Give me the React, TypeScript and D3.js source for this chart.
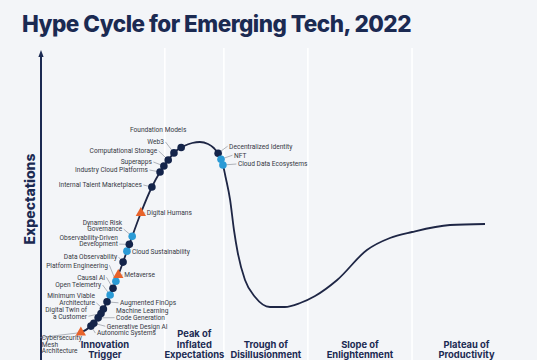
import * as d3 from "d3";
import { useEffect, useRef } from "react";

const width = 537;
const height = 360;

const navy = "#1b2a52";
const colors: Record<string, string> = {
  "2-5": "#2b9bd6",
  "5-10": "#14244a",
  ">10": "#e8632b",
};

const title = "Hype Cycle for Emerging Tech, 2022";
const yAxisLabel = "Expectations";

// phases along the time axis (0..100)
const phaseNames = [
  "Innovation\nTrigger",
  "Peak of\nInflated\nExpectations",
  "Trough of\nDisillusionment",
  "Slope of\nEnlightenment",
  "Plateau of\nProductivity",
];
const phaseBreaks = [0, 25.8, 38.1, 55.6, 77.3, 100];

// the hype curve
const curveTime = [
  8.1, 10.2, 12.3, 14.4, 16.5, 18.5, 20.8, 23.1, 24.8, 26.5, 28.1, 29.8, 31.5,
  33.1, 34.8, 36.0, 37.1, 37.9, 38.5, 39.4, 40.2, 41.0, 42.5, 44.6, 47.7, 50.8,
  54.0, 57.1, 61.7, 67.9, 72.7, 77.3, 85.2, 92.5,
];
const curveExpect = [
  3.5, 6.5, 12.5, 22.5, 35, 48.5, 63.5, 76.5, 84, 90, 94.5, 97, 98.5, 99, 98,
  96, 92.5, 87.5, 81, 70, 55, 43.5, 30, 21.5, 16.5, 16.5, 18.5, 22, 30, 45, 51,
  54, 57.5, 58,
];

const techNames = [
  "Cybersecurity\nMesh\nArchitecture",
  "Autonomic Systems",
  "Generative Design AI",
  "Machine Learning\nCode Generation",
  "Digital Twin of\na Customer",
  "Minimum Viable\nArchitecture",
  "Augmented FinOps",
  "Open Telemetry",
  "Causal AI",
  "Platform Engineering",
  "Metaverse",
  "Data Observability",
  "Cloud Sustainability",
  "Observability-Driven\nDevelopment",
  "Dynamic Risk\nGovernance",
  "Digital Humans",
  "Internal Talent Marketplaces",
  "Industry Cloud Platforms",
  "Superapps",
  "Computational Storage",
  "Web3",
  "Foundation Models",
  "Decentralized Identity",
  "NFT",
  "Cloud Data Ecosystems",
];
const techTime = [
  8.3, 10.4, 11.0, 11.9, 12.5, 13.0, 13.75, 14.4, 15.0, 15.6, 16.1, 17.1, 17.9,
  18.4, 19.0, 20.8, 23.1, 24.8, 25.6, 26.5, 27.7, 29.2, 36.9, 37.5, 37.9,
];
const techPlateau = [
  ">10", "5-10", "5-10", "5-10", "5-10", "5-10", "5-10", "2-5", "5-10", "2-5",
  ">10", "5-10", "2-5", "5-10", "2-5", ">10", "5-10", "5-10", "5-10", "5-10",
  "5-10", "5-10", "5-10", "2-5", "2-5",
];

// label placement relative to each marker: anchor, dx, dy
const labelLayout: [string, number, number][] = [
  ["start", -39, 5],
  ["start", 6, 7],
  ["start", 13, 3],
  ["start", 18, -7],
  ["end", -14, -4],
  ["end", -8.5, -13],
  ["start", 13, 1],
  ["end", -9, -10],
  ["end", -8, -11],
  ["end", -8, -16],
  ["start", 6, 0],
  ["end", -6, -5],
  ["start", 5, 1],
  ["end", -11.5, -7],
  ["end", -10, -14],
  ["start", 6, 0],
  ["end", -10, -2],
  ["end", -12, -2],
  ["end", -12, -4],
  ["end", -11, -9],
  ["end", -10, -11],
  ["middle", -23, -18],
  ["start", 11, -7],
  ["start", 13, -4],
  ["start", 15, -1],
];

const x = d3.scaleLinear().domain([0, 100]).range([41, 521]);
const y = d3.scaleLinear().domain([0, 100]).range([340, 140]);

const App = () => {
  const pathRef = useRef<SVGPathElement>(null);
  const gRef = useRef<SVGGElement>(null);

  const curvePath = d3
    .line<number>()
    .x((d) => x(d))
    .y((_, i) => y(curveExpect[i]))
    .curve(d3.curveMonotoneX)(curveTime) as string;

  useEffect(() => {
    const node = pathRef.current;
    if (!node || !gRef.current) return;
    const total = node.getTotalLength();
    const pointAtX = (px: number) => {
      let lo = 0;
      let hi = total;
      for (let k = 0; k < 40; k++) {
        const mid = (lo + hi) / 2;
        if (node.getPointAtLength(mid).x < px) lo = mid;
        else hi = mid;
      }
      return node.getPointAtLength(lo);
    };

    const g = d3.select(gRef.current);
    g.selectAll("*").remove();

    const items = techNames.map((name, i) => {
      const p = pointAtX(x(techTime[i]));
      const [anchor, dx, dy] = labelLayout[i];
      return {
        lines: name.split("\n"),
        plateau: techPlateau[i],
        px: p.x,
        py: p.y,
        anchor,
        lx: p.x + dx,
        ly: p.y + dy,
      };
    });

    const lineH = 6.8;

    // leaders
    g.selectAll("line.leader")
      .data(items.filter((d) => d.anchor !== "middle"))
      .join("line")
      .attr("class", "leader")
      .attr("x1", (d) => d.lx + (d.anchor === "end" ? 1.5 : -1.5))
      .attr("y1", (d) => {
        let best = 0;
        d.lines.forEach((_, k) => {
          if (Math.abs(d.ly + k * lineH - d.py) < Math.abs(d.ly + best * lineH - d.py)) best = k;
        });
        return d.ly + best * lineH;
      })
      .attr("x2", (d) => d.px)
      .attr("y2", (d) => d.py)
      .attr("stroke", "#80858f")
      .attr("stroke-width", 0.6);

    // labels
    const labels = g
      .selectAll("text.lbl")
      .data(items)
      .join("text")
      .attr("class", "lbl")
      .attr("text-anchor", (d) => d.anchor)
      .attr("font-family", "Roboto, sans-serif")
      .attr("font-size", 6.6)
      .attr("fill", "#353843");
    labels
      .selectAll("tspan")
      .data((d) => d.lines.map((t, k) => ({ t, x: d.lx, y: d.ly + k * lineH })))
      .join("tspan")
      .attr("x", (d) => d.x)
      .attr("y", (d) => d.y)
      .attr("dy", "0.35em")
      .text((d) => d.t);

    // markers
    const tri = d3.symbol(d3.symbolTriangle, 46)() as string;
    items.forEach((d) => {
      if (d.plateau === ">10") {
        g.append("path")
          .attr("d", tri)
          .attr("transform", `translate(${d.px},${d.py})`)
          .attr("fill", colors[d.plateau]);
      } else {
        g.append("circle")
          .attr("cx", d.px)
          .attr("cy", d.py)
          .attr("r", 3.8)
          .attr("fill", colors[d.plateau]);
      }
    });
  }, [curvePath]);

  return (
    <svg
      width={width}
      height={height}
      viewBox={`0 0 ${width} ${height}`}
      style={{ position: "absolute", left: 0, top: 0 }}
    >
      <rect width={width} height={height} fill="#f3f5f8" />
      <text
        x={22}
        y={32}
        fontFamily="Inter, sans-serif"
        fontWeight={800}
        fontSize={22.5}
        letterSpacing={-0.5}
        fill={navy}
      >
        {title}
      </text>

      {phaseBreaks.slice(1, -1).map((b) => (
        <line
          key={b}
          x1={x(b)}
          x2={x(b)}
          y1={48}
          y2={height}
          stroke="#ffffff"
          strokeWidth={1.6}
        />
      ))}

      {phaseNames.map((name, i) => {
        const lines = name.split("\n");
        const cx = x((phaseBreaks[i] + phaseBreaks[i + 1]) / 2) + (i === 0 ? 2 : 0);
        return (
          <text
            key={name}
            textAnchor="middle"
            fontFamily="Inter, sans-serif"
            fontWeight={700}
            fontSize={9.4}
            fill={navy}
          >
            {lines.map((t, k) => (
              <tspan key={t} x={cx} y={358 - (lines.length - 1 - k) * 10.4}>
                {t}
              </tspan>
            ))}
          </text>
        );
      })}

      <line x1={x(0)} x2={x(0)} y1={54} y2={height} stroke={navy} strokeWidth={2} />
      <path
        d={`M${x(0)},50 L${x(0) + 2.6},57 L${x(0) - 2.6},57 Z`}
        fill={navy}
      />
      <text
        transform={`translate(34.5, 199) rotate(-90)`}
        textAnchor="middle"
        fontFamily="Inter, sans-serif"
        fontWeight={800}
        fontSize={14}
        fill={navy}
      >
        {yAxisLabel}
      </text>

      <path
        ref={pathRef}
        d={curvePath}
        fill="none"
        stroke="#1e2645"
        strokeWidth={1.8}
      />
      <g ref={gRef} />
    </svg>
  );
};

export default App;
